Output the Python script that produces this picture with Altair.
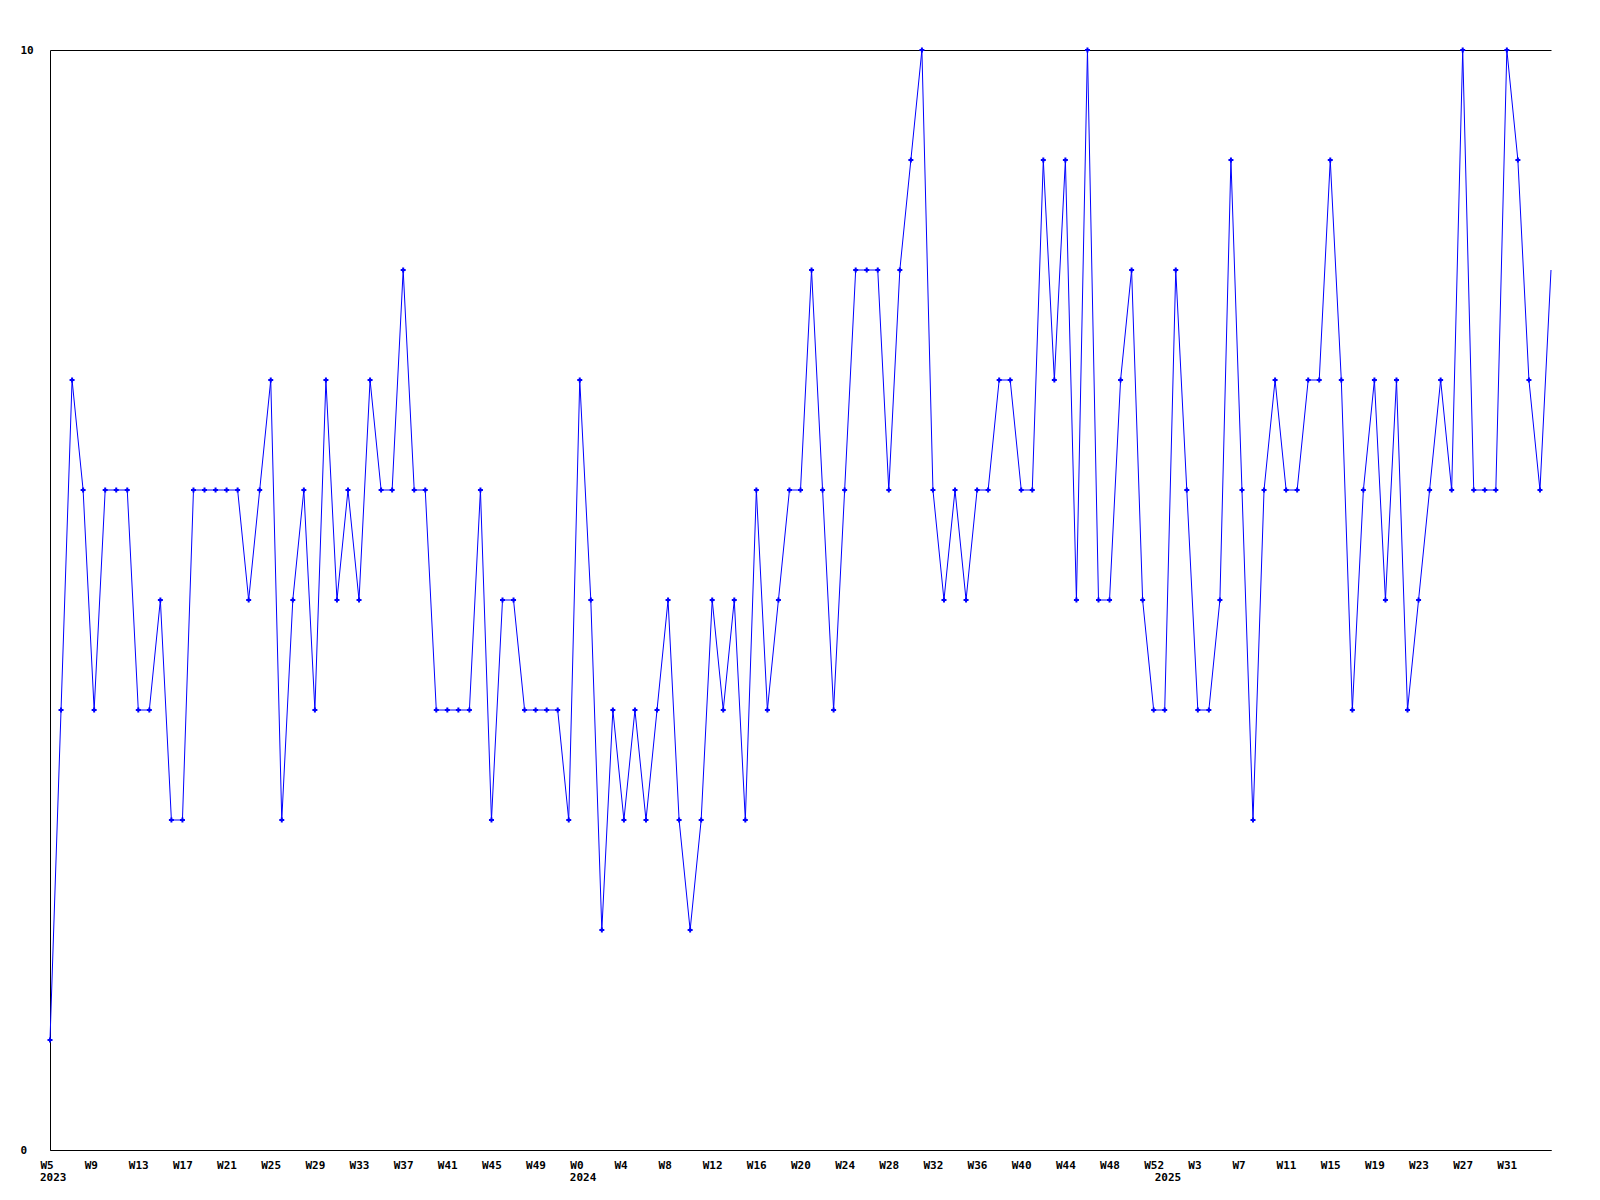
import altair as alt
import pandas as pd

# Weekly values (index 0 = 2023 W5)
values = [
    1, 4, 7, 6, 4, 6, 6, 6, 4, 4,
    5, 3, 3, 6, 6, 6, 6, 6, 5, 6,
    7, 3, 5, 6, 4, 7, 5, 6, 5, 7,
    6, 6, 8, 6, 6, 4, 4, 4, 4, 6,
    3, 5, 5, 4, 4, 4, 4, 3, 7, 5,
    2, 4, 3, 4, 3, 4, 5, 3, 2, 3,
    5, 4, 5, 3, 6, 4, 5, 6, 6, 8,
    6, 4, 6, 8, 8, 8, 6, 8, 9, 10,
    6, 5, 6, 5, 6, 6, 7, 7, 6, 6,
    9, 7, 9, 5, 10, 5, 5, 7, 8, 5,
    4, 4, 8, 6, 4, 4, 5, 9, 6, 3,
    6, 7, 6, 6, 7, 7, 9, 7, 4, 6,
    7, 5, 7, 4, 5, 6, 7, 6, 10, 6,
    6, 6, 10, 9, 7, 6, 8,
]

week_ticks = [0, 4, 8, 12, 16, 20, 24, 28, 32, 36, 40, 44,
              48, 52, 56, 60, 64, 68, 72, 76, 80, 84, 88, 92, 96, 100,
              104, 108, 112, 116, 120, 124, 128, 132]
week_labels = ["W5", "W9", "W13", "W17", "W21", "W25", "W29", "W33", "W37", "W41", "W45", "W49",
               "W0", "W4", "W8", "W12", "W16", "W20", "W24", "W28", "W32", "W36", "W40", "W44", "W48", "W52",
               "W3", "W7", "W11", "W15", "W19", "W23", "W27", "W31"]
year_labels = ["2023", "2024", "2025"]
year_pos = [0, 48, 101]
y_ticks = [0, 10]

df = pd.DataFrame({"i": list(range(len(values))), "v": values})
years = pd.DataFrame({"i": year_pos, "label": year_labels})

FONT = "DejaVu Sans Mono"
FS = 11
W, H = 1501, 1100
BLUE = "#0000ff"

xscale = alt.Scale(domain=[0, len(values) - 1], nice=False, zero=False)
yscale = alt.Scale(domain=[0, 10], nice=False)

label_expr = ("[" + ",".join(f"'{l}'" for l in week_labels) + "]"
              "[indexof([" + ",".join(str(t) for t in week_ticks) + "], datum.value)]")

x_axis = alt.Axis(
    values=week_ticks, labelExpr=label_expr, ticks=False, tickSize=0, grid=False,
    domainColor="black", domainWidth=1, labelAlign="left", labelBaseline="top",
    labelOffset=-10, labelPadding=9, labelFont=FONT, labelFontSize=FS,
    labelFontWeight="bold", labelColor="black", labelOverlap=False,
    labelFlush=False, title=None,
)
y_axis = alt.Axis(
    values=y_ticks, format="d", ticks=False, tickSize=0, grid=True, gridColor="black",
    gridWidth=1, gridOpacity=1, domainColor="black", domainWidth=1,
    labelAlign="left", labelBaseline="middle", labelPadding=30,
    labelFont=FONT, labelFontSize=FS, labelFontWeight="bold",
    labelColor="black", labelOverlap=False, labelFlush=False, title=None,
)

line = alt.Chart(df).mark_line(color=BLUE, strokeWidth=1).encode(
    x=alt.X("i:Q", scale=xscale, axis=x_axis),
    y=alt.Y("v:Q", scale=yscale, axis=y_axis),
)
pts = alt.Chart(df).transform_filter(alt.datum.i < len(values) - 1).mark_point(
    shape="cross", filled=True, size=25, color=BLUE, opacity=1
).encode(x="i:Q", y="v:Q")
yrs = alt.Chart(years).mark_text(
    align="left", baseline="top", dx=-10, font=FONT, fontSize=FS,
    fontWeight="bold", color="black"
).encode(x=alt.X("i:Q"), y=alt.value(H + 22), text="label:N")

chart = alt.layer(line, pts, yrs).properties(
    width=W, height=H,
    autosize=alt.AutoSizeParams(type="none"),
    padding={"left": 42, "top": 42, "right": 40, "bottom": 40},
).configure_view(stroke=None)

chart.save("out.html", embed_options={"renderer": "svg", "actions": False})
